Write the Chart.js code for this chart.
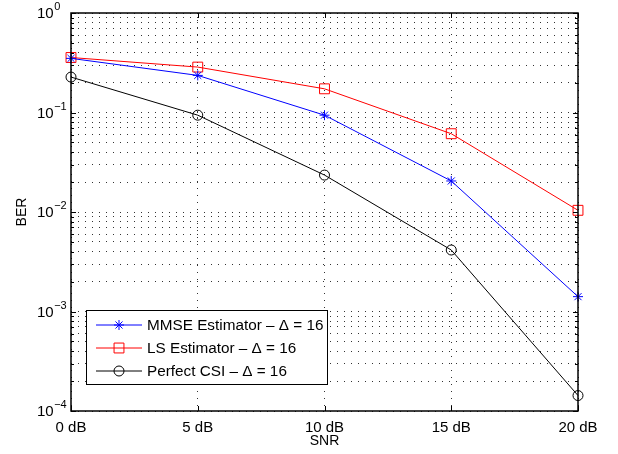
<!DOCTYPE html>
<html>
<head>
<meta charset="utf-8">
<script src="https://cdn.jsdelivr.net/npm/chart.js@4.4.1/dist/chart.umd.min.js"></script>
<style>
  html, body { margin: 0; padding: 0; background: #fff; }
  #wrap { width: 618px; height: 454px; }
</style>
</head>
<body>
<div id="wrap"><canvas id="berChart" width="618" height="454"></canvas></div>
<script>
// Données
const snrDb = [0, 5, 10, 15, 20];
const berMmse = [0.35, 0.236, 0.094, 0.0205, 0.00141];
const berLs = [0.357, 0.286, 0.173, 0.0612, 0.0104];
const berPerfect = [0.227, 0.094, 0.0235, 0.00415, 0.000143];
const seriesLabels = ['MMSE Estimator – Δ = 16', 'LS Estimator – Δ = 16', 'Perfect CSI – Δ = 16'];
const xTicks = [0, 5, 10, 15, 20];
const yDecades = [0, -1, -2, -3, -4];

const FONT = '"Liberation Sans", Arial, Helvetica, sans-serif';

function pts(ys) {
  return snrDb.map((x, i) => ({ x: x, y: ys[i] }));
}

// Plugin : cadre style MATLAB, graduations internes, labels 10^n, titres et légende
const matlabFrame = {
  id: 'matlabFrame',
  afterDraw(chart) {
    const ctx = chart.ctx;
    const a = chart.chartArea;
    const xs = chart.scales.x;
    const ys = chart.scales.y;
    ctx.save();

    // cadre
    ctx.strokeStyle = '#000';
    ctx.lineWidth = 1.5;
    ctx.strokeRect(a.left, a.top, a.right - a.left, a.bottom - a.top);

    // graduations x (haut et bas)
    ctx.lineWidth = 1;
    ctx.beginPath();
    xTicks.forEach(v => {
      const px = Math.round(xs.getPixelForValue(v)) + 0.5;
      ctx.moveTo(px, a.bottom); ctx.lineTo(px, a.bottom - 5);
      ctx.moveTo(px, a.top); ctx.lineTo(px, a.top + 5);
    });
    // graduations y majeures et mineures (gauche et droite)
    ys.ticks.forEach(t => {
      const py = Math.round(ys.getPixelForValue(t.value)) + 0.5;
      const len = t.major ? 5 : 3;
      ctx.moveTo(a.left, py); ctx.lineTo(a.left + len, py);
      ctx.moveTo(a.right, py); ctx.lineTo(a.right - len, py);
    });
    ctx.stroke();

    // labels y en 10^n
    ctx.fillStyle = '#000';
    ctx.textBaseline = 'middle';
    ctx.textAlign = 'left';
    yDecades.forEach(e => {
      const py = ys.getPixelForValue(Math.pow(10, e));
      ctx.font = '15px ' + FONT;
      ctx.fillText('10', 37, py + 1);
      const w = ctx.measureText('10').width;
      ctx.font = '11px ' + FONT;
      ctx.fillText(e === 0 ? '0' : '\u2212' + Math.abs(e), 37 + w + 0.5, py - 6);
    });

    // titres des axes
    ctx.font = '14px ' + FONT;
    ctx.textAlign = 'center';
    ctx.fillText('SNR', (a.left + a.right) / 2, 441);
    ctx.save();
    ctx.translate(22, (a.top + a.bottom) / 2);
    ctx.rotate(-Math.PI / 2);
    ctx.fillText('BER', 0, 0);
    ctx.restore();

    // légende
    const lx = 86, ly = 310, lw = 241, lh = 74;
    ctx.fillStyle = '#fff';
    ctx.fillRect(lx, ly, lw, lh);
    ctx.strokeStyle = '#000';
    ctx.lineWidth = 1;
    ctx.strokeRect(lx + 0.5, ly + 0.5, lw, lh);
    chart.data.datasets.forEach((ds, i) => {
      const ry = ly + 15 + i * 23;
      ctx.strokeStyle = ds.borderColor;
      ctx.lineWidth = 1;
      ctx.beginPath();
      ctx.moveTo(96, ry); ctx.lineTo(142, ry);
      ctx.stroke();
      ctx.fillStyle = 'rgba(0,0,0,0)';
      Chart.helpers.drawPoint(ctx, {
        pointStyle: ds.pointStyle, radius: ds.pointRadius, rotation: 0, borderWidth: 1
      }, 119, ry);
      ctx.fillStyle = '#000';
      ctx.font = '15.3px ' + FONT;
      ctx.textAlign = 'left';
      ctx.fillText(ds.label, 147, ry + 1);
    });

    ctx.restore();
  }
};

const dotted = [1, 6];

new Chart(document.getElementById('berChart'), {
  type: 'line',
  data: {
    datasets: [
      {
        label: seriesLabels[0],
        data: pts(berMmse),
        borderColor: '#0000ff',
        pointBorderColor: '#0000ff',
        pointBackgroundColor: 'rgba(0,0,0,0)',
        pointStyle: 'star',
        pointRadius: 5,
        borderWidth: 1,
        pointBorderWidth: 1
      },
      {
        label: seriesLabels[1],
        data: pts(berLs),
        borderColor: '#ff0000',
        pointBorderColor: '#ff0000',
        pointBackgroundColor: 'rgba(0,0,0,0)',
        pointStyle: 'rect',
        pointRadius: 7,
        borderWidth: 1,
        pointBorderWidth: 1
      },
      {
        label: seriesLabels[2],
        data: pts(berPerfect),
        borderColor: '#000000',
        pointBorderColor: '#000000',
        pointBackgroundColor: 'rgba(0,0,0,0)',
        pointStyle: 'circle',
        pointRadius: 5,
        borderWidth: 1,
        pointBorderWidth: 1
      }
    ]
  },
  options: {
    responsive: false,
    animation: false,
    clip: false,
    layout: { padding: { top: 13, right: 40, left: 0, bottom: 0 } },
    plugins: {
      legend: { display: false },
      tooltip: { enabled: false }
    },
    elements: { line: { tension: 0 } },
    scales: {
      x: {
        type: 'linear',
        min: 0,
        max: 20,
        afterBuildTicks: s => { s.ticks = xTicks.map(v => ({ value: v })); },
        afterFit: s => { s.height = 43; },
        ticks: {
          color: '#000',
          padding: 8,
          font: { family: FONT, size: 15 },
          callback: v => v + ' dB'
        },
        grid: { color: '#333', drawTicks: false, lineWidth: 1 },
        border: { display: false, dash: dotted }
      },
      y: {
        type: 'logarithmic',
        min: 1e-4,
        max: 1,
        afterBuildTicks: s => {
          const t = [];
          for (let e = -4; e < 0; e++) {
            for (let m = 1; m <= 9; m++) t.push({ value: m * Math.pow(10, e), major: m === 1 });
          }
          t.push({ value: 1, major: true });
          s.ticks = t;
        },
        afterFit: s => { s.width = 71; },
        ticks: { display: false },
        grid: { color: '#333', drawTicks: false, lineWidth: 1 },
        border: { display: false, dash: dotted }
      }
    }
  },
  plugins: [matlabFrame]
});
</script>
</body>
</html>
